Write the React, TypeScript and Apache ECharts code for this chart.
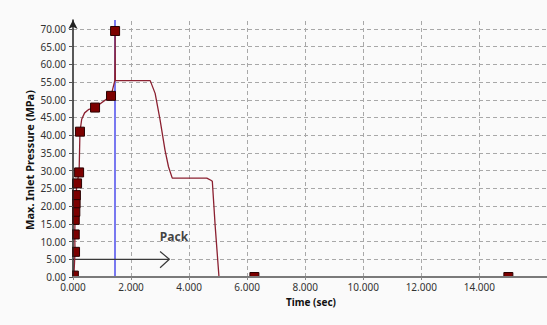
import React, { useEffect, useRef } from 'react';
import * as echarts from 'echarts';

const xTicks = [0, 2, 4, 6, 8, 10, 12, 14];
const yTicks = [0, 5, 10, 15, 20, 25, 30, 35, 40, 45, 50, 55, 60, 65, 70];

const curveTime = [0, 0.03, 0.07, 0.06, 0.07, 0.08, 0.08, 0.1, 0.14, 0.21, 0.24, 0.3, 0.4, 0.55, 0.76, 1.31, 1.44, 1.45, 1.46, 2.66, 2.83, 3.0, 3.17, 3.29, 3.42, 4.61, 4.75, 4.8, 4.9, 5.03];
const curvePressure = [0, 0.3, 7.1, 12.0, 16.1, 18.4, 20.8, 23.1, 26.4, 29.5, 41.0, 44.5, 46.3, 47.3, 47.8, 51.1, 55.4, 69.4, 55.4, 55.4, 51.8, 44.3, 35.8, 31.1, 27.9, 27.9, 27.3, 27.0, 14.2, 0];

const markerTime = [0.03, 0.07, 0.06, 0.06, 0.08, 0.09, 0.1, 0.14, 0.21, 0.24, 0.76, 1.31, 1.45, 6.25, 15.0];
const markerPressure = [0.4, 7.1, 12.0, 16.1, 18.4, 20.8, 23.1, 26.4, 29.5, 41.0, 47.8, 51.1, 69.4, 0, 0];

const switchTime = [1.45];
const packShaftTime = [0, 3.32];
const packShaftPressure = [5, 5];
const packHeadTime = [3.0, 3.32, 3.0];
const packHeadPressure = [7.2, 5, 2.6];
const packLabelText = 'Pack';
const packLabelTime = 3.48;
const packLabelPressure = 11.3;

const xName = 'Time (sec)';
const yName = 'Max. Inlet Pressure (MPa)';

const BG = '#fafafa';
const FONT = 'Noto Sans';

export default function App() {
  const ref = useRef<HTMLDivElement>(null);
  useEffect(() => {
    if (!ref.current) return;
    const chart = echarts.init(ref.current, null, { renderer: 'svg' });
    const zip = (a: number[], b: number[]) => a.map((v, i) => [v, b[i]]);
    const gridStyle = { color: '#a8a8a8', width: 1, type: [4, 3] as any };
    chart.setOption({
      animation: false,
      backgroundColor: BG,
      grid: { left: 73, right: -2, top: 20, bottom: 48, outerBoundsMode: 'none', containLabel: false },
      xAxis: {
        type: 'value', min: 0, max: 16.4, z: 10,
        name: xName, nameLocation: 'middle', nameGap: 19,
        nameTextStyle: { fontFamily: FONT, fontWeight: 'bold', fontSize: 10, color: '#111' },
        axisLine: { show: true, lineStyle: { color: '#7a7a7a', width: 2 } },
        axisTick: { show: true, length: 3, customValues: xTicks, lineStyle: { color: '#888' } },
        axisLabel: { customValues: xTicks, margin: 5, fontFamily: FONT, fontSize: 10, color: '#333', formatter: (v: number) => v.toFixed(3) },
        splitLine: { show: false },
      },
      yAxis: {
        type: 'value', min: 0, max: 72.5, z: 10,
        axisLine: { show: true, symbol: ['none', 'arrow'], symbolSize: [7, 9], lineStyle: { color: '#222', width: 1.5 } },
        axisTick: { show: true, length: 4, customValues: yTicks, lineStyle: { color: '#555' } },
        axisLabel: { customValues: yTicks, margin: 7, fontFamily: FONT, fontSize: 10, color: '#333', formatter: (v: number) => v.toFixed(2) },
        splitLine: { show: false },
      },
      graphic: [
        { type: 'rect', z: 5, shape: { x: 0, y: 0, width: 72, height: 325 }, style: { fill: BG } },
        { type: 'rect', z: 5, shape: { x: 0, y: 278, width: 547, height: 47 }, style: { fill: BG } },
        {
          type: 'text', z: 20, x: 29, y: 160, rotation: Math.PI / 2,
          style: { text: yName, fontFamily: FONT, fontWeight: 'bold', fontSize: 11, fill: '#111', align: 'center', verticalAlign: 'middle' },
        },
      ],
      series: [
        {
          type: 'line', data: [], z: 1, silent: true,
          markLine: {
            z: 1, silent: true, symbol: ['none', 'none'], label: { show: false },
            lineStyle: gridStyle,
            data: [
              ...xTicks.filter((t) => t > 0).map((t) => ({ xAxis: t })),
              ...yTicks.filter((t) => t > 0).map((t) => ({ yAxis: t })),
            ],
          },
        },
        {
          type: 'line', data: zip(packShaftTime, packShaftPressure), showSymbol: false, symbol: 'none',
          lineStyle: { color: '#3a3a3a', width: 1.3 }, z: 2,
          markLine: {
            z: 2, silent: true, symbol: ['none', 'none'], label: { show: false },
            lineStyle: { color: '#7878f0', width: 2, type: 'solid' },
            data: switchTime.map((t) => ({ xAxis: t })),
          },
        },
        {
          type: 'line', data: zip(packHeadTime, packHeadPressure), showSymbol: false, symbol: 'none',
          lineStyle: { color: '#3a3a3a', width: 1.2 }, z: 2,
        },
        {
          type: 'scatter', data: [[packLabelTime, packLabelPressure]], symbolSize: 0, z: 3,
          label: { show: true, position: 'inside', formatter: packLabelText, fontFamily: FONT, fontWeight: 'bold', fontSize: 12, color: '#111' },
        },
        {
          type: 'line', data: zip(curveTime, curvePressure), showSymbol: false, symbol: 'none',
          lineStyle: { color: '#8b2030', width: 1.3 }, z: 3,
        },
        {
          type: 'scatter', data: zip(markerTime, markerPressure), symbol: 'rect', symbolSize: 9, z: 4,
          itemStyle: { color: '#7c0000', borderColor: '#2a0000', borderWidth: 1, opacity: 1 },
        },
      ],
    });
    return () => chart.dispose();
  }, []);
  return <div ref={ref} style={{ position: 'absolute', left: 0, top: 0, width: 547, height: 325 }} />;
}
